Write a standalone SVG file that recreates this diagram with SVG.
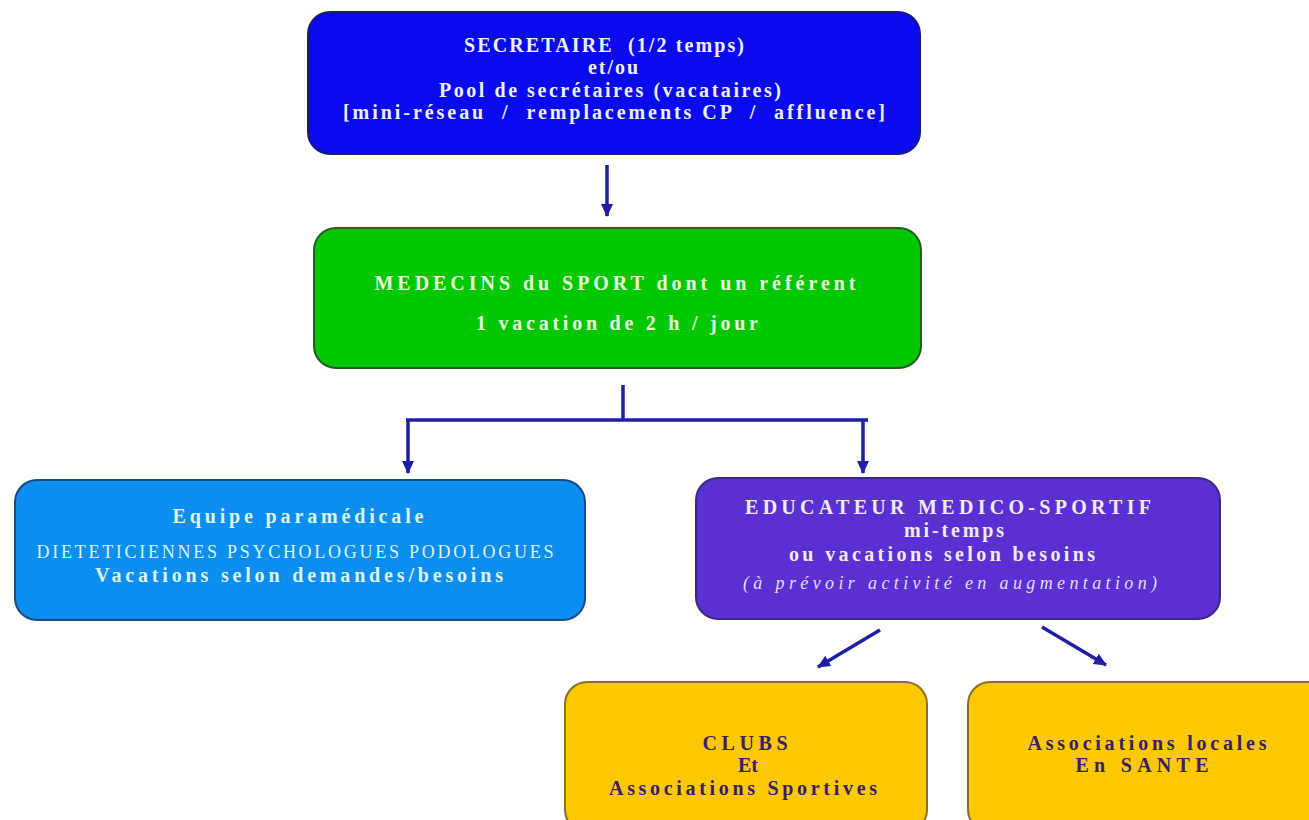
<svg xmlns="http://www.w3.org/2000/svg" width="1309" height="820" viewBox="0 0 1309 820">
<defs>
<marker id="ah" markerUnits="userSpaceOnUse" markerWidth="14" markerHeight="14" viewBox="0 0 14 14" refX="12" refY="7" orient="auto">
<path d="M0,1 L13,7 L0,13 z" fill="#1e1ea6"/>
</marker>
<style>
.t{font-family:"Liberation Serif","Times New Roman",serif;font-weight:bold;font-size:20px;text-anchor:middle}
.c{stroke:#1e1ea6;stroke-width:3.5;fill:none}
</style>
</defs>
<rect width="1309" height="820" fill="#ffffff"/>
<g id="connectors">
<line class="c" x1="607" y1="165" x2="607" y2="216" marker-end="url(#ah)"/>
<line class="c" x1="623" y1="385" x2="623" y2="420"/>
<line class="c" x1="406" y1="420" x2="868" y2="420"/>
<line class="c" x1="408" y1="420" x2="408" y2="473" marker-end="url(#ah)"/>
<line class="c" x1="863" y1="420" x2="863" y2="473" marker-end="url(#ah)"/>
<line class="c" x1="880" y1="630" x2="818" y2="667" marker-end="url(#ah)"/>
<line class="c" x1="1042" y1="627" x2="1106" y2="665" marker-end="url(#ah)"/>
</g>
<g id="secretaire">
<rect x="308" y="12" width="612" height="142" rx="22" fill="#0a0af0" stroke="#1a1a78" stroke-width="2"/>
<text class="t" fill="#eef0f6" x="604" y="52" textLength="280" lengthAdjust="spacing" xml:space="preserve">SECRETAIRE  (1/2 temps)</text>
<text class="t" fill="#eef0f6" x="613" y="74" textLength="50" lengthAdjust="spacing">et/ou</text>
<text class="t" fill="#eef0f6" x="610" y="97" textLength="342" lengthAdjust="spacing">Pool de secrétaires (vacataires)</text>
<text class="t" fill="#eef0f6" x="614" y="119" textLength="542" lengthAdjust="spacing" xml:space="preserve">[mini-réseau  /  remplacements CP  /  affluence]</text>
</g>
<g id="medecins">
<rect x="314" y="228" width="607" height="140" rx="22" fill="#00c800" stroke="#2a5a2a" stroke-width="2"/>
<text class="t" fill="#ecf8dc" x="615" y="290" textLength="481" lengthAdjust="spacing">MEDECINS du SPORT dont un référent</text>
<text class="t" fill="#ecf8dc" x="617" y="330" textLength="282" lengthAdjust="spacing">1 vacation de 2 h / jour</text>
</g>
<g id="paramedicale">
<rect x="15" y="480" width="570" height="140" rx="22" fill="#0b8ef0" stroke="#1a4a80" stroke-width="2"/>
<text class="t" fill="#dcf4ee" x="298" y="523" textLength="251" lengthAdjust="spacing">Equipe paramédicale</text>
<text class="t" fill="#dcf4ee" x="295" y="558" textLength="517" lengthAdjust="spacing" style="font-weight:normal;font-size:18px">DIETETICIENNES PSYCHOLOGUES PODOLOGUES</text>
<text class="t" fill="#dcf4ee" x="299" y="582" textLength="408" lengthAdjust="spacing">Vacations selon demandes/besoins</text>
</g>
<g id="educateur">
<rect x="696" y="478" width="524" height="141" rx="22" fill="#5a30d2" stroke="#3a2a80" stroke-width="2"/>
<text class="t" fill="#f2eaf2" x="948" y="514" textLength="406" lengthAdjust="spacing">EDUCATEUR MEDICO-SPORTIF</text>
<text class="t" fill="#f2eaf2" x="954" y="537" textLength="100" lengthAdjust="spacing">mi-temps</text>
<text class="t" fill="#f2eaf2" x="942" y="561" textLength="306" lengthAdjust="spacing">ou vacations selon besoins</text>
<text class="t" fill="#e6dcf2" x="950" y="589" textLength="414" lengthAdjust="spacing" style="font-weight:normal;font-style:italic;font-size:18px">(à prévoir activité en augmentation)</text>
</g>
<g id="clubs">
<rect x="565" y="682" width="362" height="150" rx="22" fill="#fcc800" stroke="#8a7028" stroke-width="2"/>
<text class="t" fill="#3a1e66" x="745" y="750" textLength="85" lengthAdjust="spacing">CLUBS</text>
<text class="t" fill="#3a1e66" x="748" y="772" textLength="20" lengthAdjust="spacing">Et</text>
<text class="t" fill="#3a1e66" x="743" y="795" textLength="268" lengthAdjust="spacing">Associations Sportives</text>
</g>
<g id="associations">
<rect x="968" y="682" width="362" height="150" rx="22" fill="#fcc800" stroke="#8a7028" stroke-width="2"/>
<text class="t" fill="#3a1e66" x="1147" y="750" textLength="239" lengthAdjust="spacing">Associations locales</text>
<text class="t" fill="#3a1e66" x="1142" y="772" textLength="133" lengthAdjust="spacing">En SANTE</text>
</g>
</svg>
